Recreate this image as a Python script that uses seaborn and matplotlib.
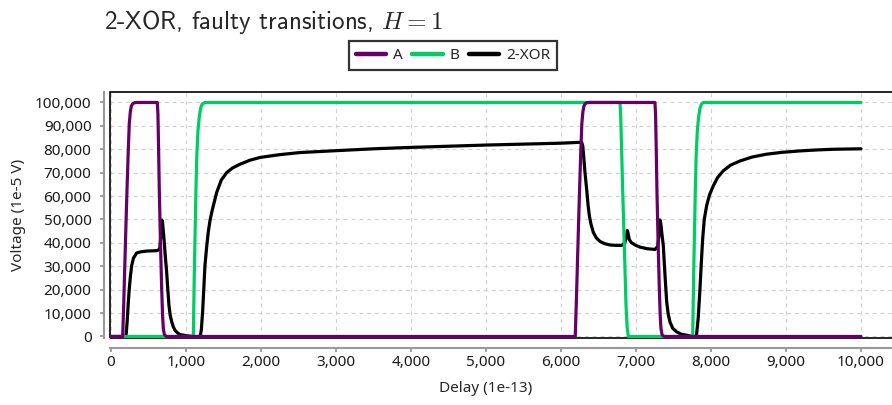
import matplotlib
matplotlib.use("Agg")
import matplotlib.pyplot as plt
from matplotlib.patches import Rectangle
from matplotlib.ticker import FuncFormatter, MultipleLocator
import pandas as pd
import seaborn as sns

# Simulated node voltages (1e-5 V) versus delay (1e-13)
a_t = [0, 156, 170, 185, 200, 215, 230, 244, 258, 272, 290, 315, 342,
       618, 626, 635, 644, 660, 676, 688, 698, 712, 740,
       6190, 6204, 6219, 6234, 6249, 6264, 6278, 6292, 6306, 6324, 6349, 6376,
       7253, 7261, 7270, 7279, 7295, 7311, 7323, 7333, 7347, 7375, 10000]
a_v = [0, 0, 14000, 31000, 48000, 64000, 79000, 91000, 96000, 98500, 99500, 99900, 100000,
       100000, 95000, 80000, 63000, 40000, 20400, 9000, 3400, 800, 0,
       0, 14000, 31000, 48000, 64000, 79000, 91000, 96000, 98500, 99500, 99900, 100000,
       100000, 95000, 80000, 63000, 40000, 20400, 9000, 3400, 800, 0, 0]

b_t = [0, 1098, 1110, 1122, 1133, 1145, 1160, 1178, 1195, 1215, 1253,
       6787, 6795, 6810, 6822, 6845, 6867, 6882, 6898,
       7756, 7768, 7780, 7791, 7803, 7818, 7836, 7853, 7873, 7898, 10000]
b_v = [0, 0, 25000, 45000, 63000, 78000, 88000, 94000, 97500, 99300, 100000,
       100000, 95000, 78000, 63000, 38000, 13300, 4000, 0,
       0, 25000, 45000, 63000, 78000, 88000, 94000, 97500, 99300, 100000, 100000]

xor_t = [0, 200, 215, 230, 244, 260, 276, 300, 342, 400, 476, 550, 618, 650, 662, 670,
         678, 688, 698, 707, 725, 742, 758, 773, 790, 809, 830, 853, 885, 920, 1009, 1100,
         1190, 1205, 1222, 1237, 1253, 1275, 1297, 1320, 1350, 1387, 1409, 1470, 1542, 1620,
         1720, 1850, 1987, 2250, 2520, 3000, 3500, 4000, 4500, 5000, 5500, 6000, 6275, 6290,
         6305, 6320, 6342, 6360, 6378, 6400, 6431, 6470, 6520, 6580, 6653, 6730, 6809, 6850,
         6872, 6884, 6895, 6910, 6935, 6964, 7000, 7053, 7150, 7253, 7290, 7308, 7320, 7330,
         7345, 7364, 7387, 7409, 7430, 7453, 7490, 7542, 7600, 7676, 7760, 7805, 7830, 7853,
         7870, 7889, 7910, 7942, 7980, 8031, 8090, 8164, 8260, 8387, 8550, 8742, 8950, 9187,
         9400, 9631, 10000]
xor_v = [0, 0, 6000, 14000, 20400, 26000, 30300, 33500, 35700, 36200, 36500, 36600, 36700, 37500, 42000, 46500,
         49800, 48500, 45000, 41700, 34000, 27700, 20000, 13300, 9000, 6400, 4200, 2700, 1600, 850, 300, 0,
         0, 3000, 10600, 20000, 30300, 38000, 44600, 49500, 54000, 58700, 61500, 66800, 70000, 72000,
         73600, 75300, 76500, 77700, 78600, 79400, 80200, 80800, 81300, 81800, 82200, 82600, 83000, 81500,
         76000, 70000, 63000, 56500, 51600, 48000, 44500, 42200, 40600, 39700, 39100, 38950, 38900, 40000,
         42500, 45300, 44000, 41500, 40200, 39600, 38900, 38200, 37500, 37200, 38500, 44000, 49800, 48500,
         44000, 38900, 26100, 14800, 9500, 6200, 3500, 2000, 1000, 550, 0, 0, 8000, 20400,
         31000, 41700, 50000, 55900, 60500, 64400, 68000, 70800, 73200, 75000, 76700, 77900, 78700, 79300,
         79700, 80000, 80200]

series_names = ["A", "B", "2-XOR"]
series_colors = ["#660066", "#00cc66", "#000000"]

sns.set_theme(style="white")
plt.rcParams["font.family"] = ["Noto Sans", "DejaVu Sans"]
plt.rcParams["mathtext.fontset"] = "cm"

fig = plt.figure(figsize=(8.92, 4.05), dpi=100)
ax = fig.add_axes([110 / 892, 67.5 / 405, 790 / 892, 245.8 / 405])

frames = {
    "A": pd.DataFrame({"t": a_t, "v": a_v}),
    "B": pd.DataFrame({"t": b_t, "v": b_v}),
    "2-XOR": pd.DataFrame({"t": xor_t, "v": xor_v}),
}
zorders = {"A": 4, "B": 3, "2-XOR": 2}
for name, color in zip(series_names, series_colors):
    sns.lineplot(data=frames[name], x="t", y="v", ax=ax, color=color, lw=2.3,
                 estimator=None, sort=False, label=name, zorder=zorders[name])

ax.set_xlim(-13, 10520)
ax.set_ylim(-430, 104600)
ax.set_xticks(range(0, 10001, 1000))
ax.yaxis.set_major_locator(MultipleLocator(10000))
fmt = FuncFormatter(lambda v, p: f"{v:,.0f}")
ax.xaxis.set_major_formatter(fmt)
ax.yaxis.set_major_formatter(fmt)

ax.set_axisbelow(True)
ax.grid(True, color="#d2d2d2", linestyle=(0, (3.5, 3.5)), linewidth=0.8)

# black frame around the plotting area
ax.add_patch(Rectangle((0, 0), 1, 1, transform=ax.transAxes, fill=False,
                       ec="black", lw=1.2, clip_on=False, zorder=1.5))

# grey axis lines pushed away from the frame
for side in ["top", "right"]:
    ax.spines[side].set_visible(False)
ax.spines["left"].set_position(("outward", 4.3))
ax.spines["bottom"].set_position(("outward", 7.4))
for side in ["left", "bottom"]:
    ax.spines[side].set_color("#999999")
    ax.spines[side].set_linewidth(1.5)
ax.tick_params(axis="both", which="major", direction="out", length=3, width=1.3,
               color="#999999", labelsize=11, labelcolor="#1a1a1a")
ax.tick_params(axis="y", pad=6, left=True)
ax.tick_params(axis="x", pad=2, bottom=True)

ax.set_xlabel("Delay (1e-13)", fontsize=11)
ax.set_ylabel("Voltage (1e-5 V)", fontsize=11)
ax.xaxis.set_label_coords((486 - 110) / 790, -0.177)
ax.yaxis.set_label_coords(-0.106, 0.5)

fig.text(104 / 892, 1 - 29 / 405, "2-XOR, faulty transitions, $H=1$",
         fontsize=18, family="cmss10", ha="left", va="baseline")

ax.get_legend().remove()
handles, labels = ax.get_legend_handles_labels()
leg = fig.legend(handles, labels, loc="center", ncol=3,
                 bbox_to_anchor=(453 / 892, 1 - 55.5 / 405),
                 frameon=True, fancybox=False, fontsize=11, handlelength=2.0,
                 handletextpad=0.45, columnspacing=0.6, borderpad=0.45)
leg.get_frame().set_edgecolor("black")
leg.get_frame().set_linewidth(1.6)
for line in leg.get_lines():
    line.set_linewidth(3.2)

fig.savefig("out.png", dpi=100)
